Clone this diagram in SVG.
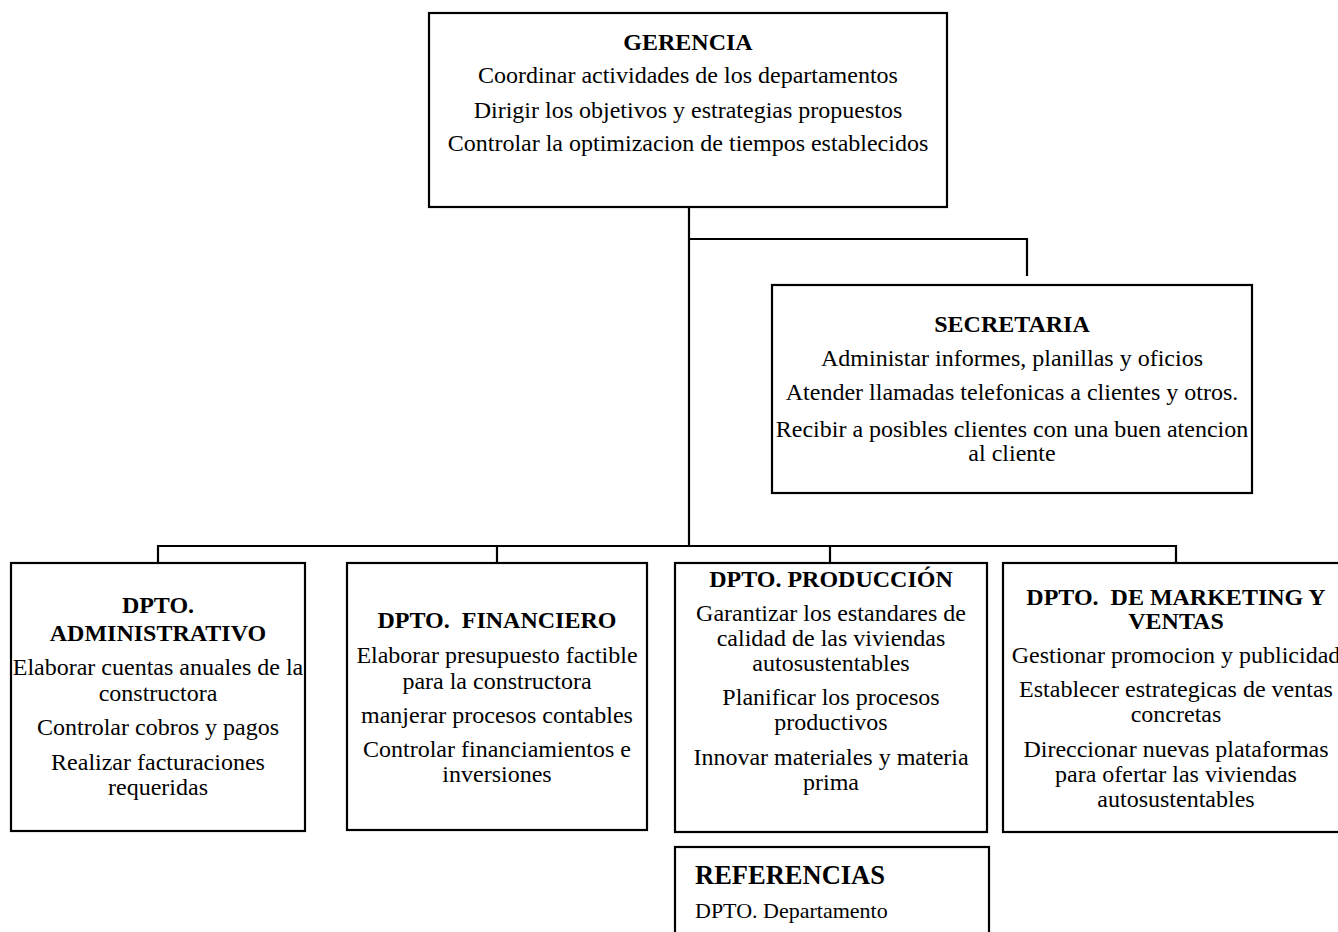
<svg xmlns="http://www.w3.org/2000/svg" width="1338" height="932" viewBox="0 0 1338 932">
<style>
.box{fill:#fff;stroke:#000;stroke-width:2.2}
.ln{fill:none;stroke:#000;stroke-width:2.2}
text{font-family:"Liberation Serif","Times New Roman",serif;font-size:24px;fill:#000}
.c{text-anchor:middle}
.b{font-weight:bold}
</style>
<rect width="1338" height="932" fill="#fff"/>
<g id="connectors">
<path class="ln" d="M689 207V546M689 239H1027V276M158 563V546H1176V563M497 546V563M830 546V563"/>
</g>
<g id="gerencia">
<rect class="box" x="429" y="13" width="518" height="194"/>
<text class="c b" x="688" y="50">GERENCIA</text>
<text class="c" x="688" y="83">Coordinar actividades de los departamentos</text>
<text class="c" x="688" y="118">Dirigir los objetivos y estrategias propuestos</text>
<text class="c" x="688" y="151">Controlar la optimizacion de tiempos establecidos</text>
</g>
<g id="secretaria">
<rect class="box" x="772" y="285" width="480" height="208"/>
<text class="c b" x="1012" y="332">SECRETARIA</text>
<text class="c" x="1012" y="366">Administar informes, planillas y oficios</text>
<text class="c" x="1012" y="400">Atender llamadas telefonicas a clientes y otros.</text>
<text class="c" x="1012" y="437">Recibir a posibles clientes con una buen atencion</text>
<text class="c" x="1012" y="461">al cliente</text>
</g>
<g id="administrativo">
<rect class="box" x="11" y="563" width="294" height="268"/>
<text class="c b" x="158" y="613">DPTO.</text>
<text class="c b" x="158" y="641">ADMINISTRATIVO</text>
<text class="c" x="158" y="675">Elaborar cuentas anuales de la</text>
<text class="c" x="158" y="701">constructora</text>
<text class="c" x="158" y="735">Controlar cobros y pagos</text>
<text class="c" x="158" y="770">Realizar facturaciones</text>
<text class="c" x="158" y="795">requeridas</text>
</g>
<g id="financiero">
<rect class="box" x="347" y="563" width="300" height="267"/>
<text class="c b" x="497" y="628" xml:space="preserve">DPTO.  FINANCIERO</text>
<text class="c" x="497" y="663">Elaborar presupuesto factible</text>
<text class="c" x="497" y="689">para la constructora</text>
<text class="c" x="497" y="723">manjerar procesos contables</text>
<text class="c" x="497" y="757">Controlar financiamientos e</text>
<text class="c" x="497" y="782">inversiones</text>
</g>
<g id="produccion">
<rect class="box" x="675" y="563" width="312" height="269"/>
<text class="c b" x="831" y="587">DPTO. PRODUCCIÓN</text>
<text class="c" x="831" y="621">Garantizar los estandares de</text>
<text class="c" x="831" y="646">calidad de las viviendas</text>
<text class="c" x="831" y="671">autosustentables</text>
<text class="c" x="831" y="705">Planificar los procesos</text>
<text class="c" x="831" y="730">productivos</text>
<text class="c" x="831" y="765">Innovar materiales y materia</text>
<text class="c" x="831" y="790">prima</text>
</g>
<g id="marketing">
<rect class="box" x="1003" y="563" width="345" height="269"/>
<text class="c b" x="1176" y="605" xml:space="preserve">DPTO.  DE MARKETING Y</text>
<text class="c b" x="1176" y="629">VENTAS</text>
<text class="c" x="1176" y="663">Gestionar promocion y publicidad</text>
<text class="c" x="1176" y="697">Establecer estrategicas de ventas</text>
<text class="c" x="1176" y="722">concretas</text>
<text class="c" x="1176" y="757">Direccionar nuevas plataformas</text>
<text class="c" x="1176" y="782">para ofertar las viviendas</text>
<text class="c" x="1176" y="807">autosustentables</text>
</g>
<g id="referencias">
<rect class="box" x="675" y="847" width="314" height="100"/>
<text class="b" x="695" y="884" style="font-size:26.5px">REFERENCIAS</text>
<text x="695" y="918" style="font-size:22px">DPTO. Departamento</text>
</g>
</svg>
